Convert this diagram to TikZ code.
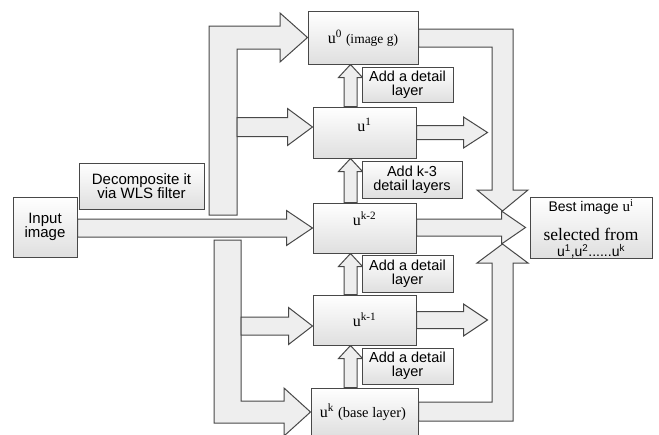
\documentclass[tikz,border=0pt]{standalone}
\usepackage{fontspec}
\setmainfont{Liberation Serif}
\newfontfamily\arial{Liberation Sans}
\usetikzlibrary{calc}
\pgfdeclarelayer{bg}
\pgfsetlayers{bg,main}
\definecolor{edgegray}{RGB}{72,72,72}
\definecolor{arrowfill}{RGB}{238,238,238}

% horizontal block arrow: #1 start, #2 tip, #3 shaft half width, #4 head half width, #5 head length
\newcommand\harrow[5]{%
  \path[blk] let \p1=(#1), \p2=(#2) in
    (\x1,\y2+#3pt) -- (\x2-#5pt,\y2+#3pt) -- (\x2-#5pt,\y2+#4pt) -- (\x2,\y2)
    -- (\x2-#5pt,\y2-#4pt) -- (\x2-#5pt,\y2-#3pt) -- (\x1,\y2-#3pt) -- cycle;}
% upward block arrow: #1 start, #2 tip, #3 shaft half width, #4 head half width, #5 head length
\newcommand\uarrow[5]{%
  \path[blk] let \p1=(#1), \p2=(#2) in
    (\x2-#3pt,\y1) -- (\x2-#3pt,\y2-#5pt) -- (\x2-#4pt,\y2-#5pt) -- (\x2,\y2)
    -- (\x2+#4pt,\y2-#5pt) -- (\x2+#3pt,\y2-#5pt) -- (\x2+#3pt,\y1) -- cycle;}

\begin{document}
\begin{tikzpicture}[x=1pt,y=-1pt,
  box/.style={draw=edgegray, line width=1pt, top color=white, bottom color=gray!25,
    rectangle, inner sep=0pt},
  blk/.style={draw=edgegray, line width=1pt, fill=arrowfill},
  sanstext/.style={font=\arial\fontsize{14.5}{14}\selectfont, align=center, text=black},
  sertext/.style={font=\fontsize{16}{18}\selectfont, text=black}]

\useasboundingbox (0,0) rectangle (659,434);

% ---- boxes ----
\node[box, minimum width=64pt, minimum height=60pt] (in) at (45,227) {};
\node[sanstext, font=\arial\fontsize{15}{14.5}\selectfont] (intxt) at (in) {Input\\image};
\node[box, minimum width=125pt, minimum height=46pt] (dec) at (141.5,186)
  [sanstext, font=\arial\fontsize{15}{14.5}\selectfont] {Decomposite it\\via WLS filter};

\node[box, minimum width=110pt, minimum height=53pt] (u0) at (363,37.5) {};
\node[box, minimum width=103pt, minimum height=51pt] (u1) at (364.5,132.5) {};
\node[box, minimum width=103pt, minimum height=50pt] (uk2) at (364.5,228) {};
\node[box, minimum width=103pt, minimum height=50pt] (uk1) at (364.5,320) {};
\node[box, minimum width=107pt, minimum height=48pt] (uk) at (364.5,412) {};

\node[sertext] (u0txt) at (363,38) {u\textsuperscript{0} {\fontsize{13.5}{14}\selectfont(image g)}};
\node[sertext] (u1txt) at (364.5,125) {u\textsuperscript{1}};
\node[sertext] (uk2txt) at (364.5,219) {u\textsuperscript{k-2}};
\node[sertext] (uk1txt) at (364.5,320) {u\textsuperscript{k-1}};
\node[sertext] (uktxt) at (363,412) {u\textsuperscript{k} {\fontsize{14.5}{14}\selectfont(base layer)}};

\node[box, minimum width=91pt, minimum height=35pt, sanstext] (add1) at (407.5,85) {Add a detail\\layer};
\node[box, minimum width=100pt, minimum height=37pt, sanstext] (add2) at (412,179.5) {Add k-3\\detail layers};
\node[box, minimum width=91pt, minimum height=37pt, sanstext] (add3) at (407.5,273.5) {Add a detail\\layer};
\node[box, minimum width=91pt, minimum height=36pt, sanstext] (add4) at (407.5,366) {Add a detail\\layer};

\node[box, minimum width=122pt, minimum height=61pt] (best) at (591,227.5) {};
\node[font=\arial\fontsize{14}{14}\selectfont, text=black] (bt1) at (591,207)
  {Best image {\rmfamily\fontsize{15}{15}\selectfont u\textsuperscript{i}}};
\node[font=\fontsize{17.5}{18}\selectfont, text=black] (bt2) at (591,234) {selected from};
\node[font=\arial\fontsize{14}{14}\selectfont, text=black] (bt3) at (591,251)
  {u\textsuperscript{1},u\textsuperscript{2}......u\textsuperscript{k}};

% helper coordinates
\coordinate (ax) at (350.5,0);
\coordinate (b1) at (237,127);
\coordinate (b2) at (241,326);

\begin{pgfonlayer}{bg}
  % input image to u^{k-2}
  \harrow{in.east}{uk2.west}{9}{17.5}{26}
  % upper split: to u^0 and u^1
  \path[blk] (209,215) -- (209,26) -- (280,26) -- (280,13) -- (u0.west) -- (280,62)
    -- (280,49) -- (237,49) -- (237,215) -- cycle;
  \harrow{b1}{u1.west |- b1}{9.5}{18.5}{25}
  % lower split: to u^{k-1} and u^k
  \path[blk] (214,240) -- (214,423) -- (284,423) -- (284,436) -- (uk.west) -- (284,388)
    -- (284,401) -- (241,401) -- (241,240) -- cycle;
  \harrow{b2}{uk1.west |- b2}{9}{18.5}{24}
  % detail layers added upward
  \uarrow{ax |- u1.north}{ax |- u0.south}{6.5}{12}{13}
  \uarrow{ax |- uk2.north}{ax |- u1.south}{6.5}{12}{13}
  \uarrow{ax |- uk1.north}{ax |- uk2.south}{6.5}{12}{13}
  \uarrow{ax |- uk.north}{ax |- uk1.south}{6.5}{12}{13}
  % outputs
  \harrow{u1.east}{$(u1.east)+(71,0)$}{7}{15.5}{24}
  \harrow{uk1.east}{$(uk1.east)+(71,0)$}{8.5}{16}{24}
  \harrow{uk2.east}{$(best.west)+(-4,0)$}{8.5}{16.5}{24}
  \path[blk] ($(u0.east)+(0,-8.5)$) -- (513,29) -- (513,190) -- (528,190) -- (502.5,211)
    -- (477,190) -- (492,190) -- (492,47) -- ($(u0.east)+(0,9.5)$) -- cycle;
  \path[blk] ($(uk.east)+(0,9)$) -- (513,421) -- (513,263) -- (528,263) -- (502.5,244)
    -- (477,263) -- (492,263) -- (492,402) -- ($(uk.east)+(0,-10)$) -- cycle;
\end{pgfonlayer}
\end{tikzpicture}
\end{document}
